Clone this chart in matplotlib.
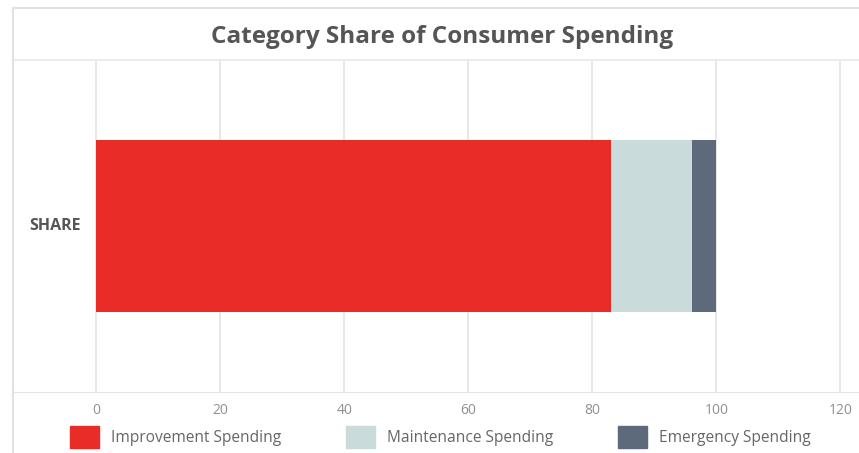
import matplotlib.pyplot as plt
from matplotlib.patches import Rectangle
from matplotlib.lines import Line2D

plt.rcParams['font.family'] = ['Open Sans', 'DejaVu Sans']

category = ['SHARE']
series = ['Improvement Spending', 'Maintenance Spending', 'Emergency Spending']
values = [83, 13, 4]
colors = ['#e82d28', '#c9dbdb', '#5d6a7c']
xticks = [0, 20, 40, 60, 80, 100, 120]

W, H = 859, 453
fig = plt.figure(figsize=(W / 100, H / 100), dpi=100)
ax = fig.add_axes([13 / W, (H - 392) / H, (W - 13) / W, (392 - 60) / H])

# stacked horizontal bar
left = 0
for name, v, c in zip(series, values, colors):
    ax.barh(category, [v], left=left, height=0.52, color=c, label=name, zorder=3)
    left += v

ax.set_xlim(-13.4, 123)
ax.set_ylim(-0.5, 0.5)
ax.set_xticks(xticks)
ax.set_xticklabels([str(t) for t in xticks], color='#909090', fontsize=10)
ax.tick_params(axis='x', length=0, pad=8)
ax.tick_params(axis='y', length=0)
ax.set_yticks([])
ax.text(-6.7, 0, category[0], ha='center', va='center', fontsize=11.5,
        fontweight='bold', color='#555555')
ax.grid(axis='x', color='#e4e4e4', lw=1.2, zorder=0)
for s in ['top', 'right', 'left']:
    ax.spines[s].set_visible(False)
ax.spines['bottom'].set_color('#e4e4e4')
ax.spines['bottom'].set_zorder(1)

# outer frame and title band
fig.add_artist(Line2D([13 / W, 1], [(H - 8) / H] * 2, color='#e2e2e2', lw=1.5))
fig.add_artist(Line2D([13 / W, 1], [(H - 60) / H] * 2, color='#e8e8e8', lw=1.2))
fig.add_artist(Line2D([13 / W] * 2, [0, (H - 8) / H], color='#e2e2e2', lw=1.5))
fig.text(442 / W, (H - 37) / H, 'Category Share of Consumer Spending', ha='center',
         va='center', fontsize=17.5, fontweight='bold', color='#555555')

# legend
leg_x = [70, 346, 618]
for x, name, c in zip(leg_x, series, colors):
    fig.add_artist(Rectangle((x / W, (H - 448) / H), 29 / W, 22 / H, color=c,
                             transform=fig.transFigure))
    fig.text((x + 41) / W, (H - 438) / H, name, ha='left', va='center',
             fontsize=11.2, color='#666666')

fig.savefig('out.png', dpi=100)
